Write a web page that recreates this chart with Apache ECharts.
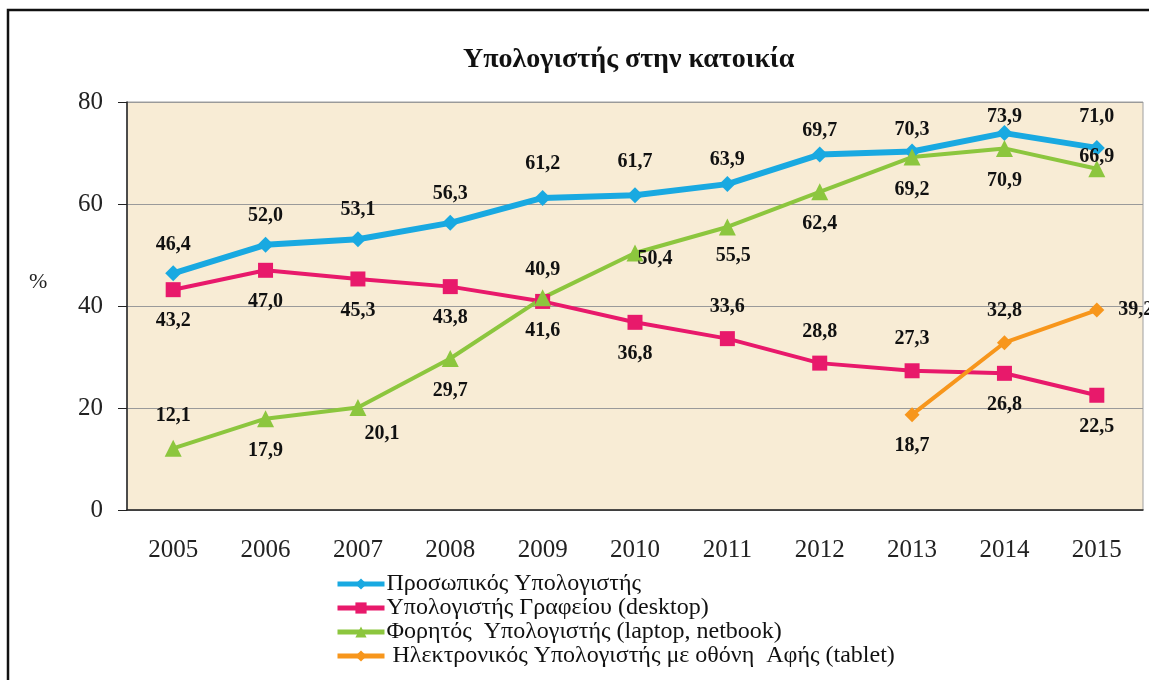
<!DOCTYPE html>
<html>
<head>
<meta charset="utf-8">
<script src="https://cdn.jsdelivr.net/npm/echarts@6/dist/echarts.min.js"></script>
<style>
    html, body { margin: 0; padding: 0; background: #fff; }
    #chart { width: 1149px; height: 680px; }
</style>
</head>
<body>
<div id="chart"></div>
<script>
// 数据
const years = ['2005', '2006', '2007', '2008', '2009', '2010', '2011', '2012', '2013', '2014', '2015'];
const personalPC = [46.4, 52.0, 53.1, 56.3, 61.2, 61.7, 63.9, 69.7, 70.3, 73.9, 71.0];
const desktopPC = [43.2, 47.0, 45.3, 43.8, 40.9, 36.8, 33.6, 28.8, 27.3, 26.8, 22.5];
const laptopPC = [12.1, 17.9, 20.1, 29.7, 41.6, 50.4, 55.5, 62.4, 69.2, 70.9, 66.9];
const tabletPC = [null, null, null, null, null, null, null, null, 18.7, 32.8, 39.2];
const seriesNames = [
    'Προσωπικός Υπολογιστής',
    'Υπολογιστής Γραφείου (desktop)',
    'Φορητός  Υπολογιστής (laptop, netbook)',
    ' Ηλεκτρονικός Υπολογιστής με οθόνη  Αφής (tablet)'
];
const yTicks = { min: 0, max: 80, interval: 20 };

// 标签位置（样式）
const personalPos = ['top', 'top', 'top', 'top', 'top', 'top', 'top', 'top', 'top', 'top', 'top'];
const desktopPos = ['bottom', 'bottom', 'bottom', 'bottom', 'top', 'bottom', 'top', 'top', 'top', 'bottom', 'bottom'];
const laptopPos = ['top', 'bottom', 'right', 'bottom', 'bottom', 'right', 'bottom', 'bottom', 'bottom', 'bottom', 'bottom'];
const tabletPos = [null, null, null, null, null, null, null, null, 'bottom', 'top', 'right'];
// 标签偏移（样式）
const personalOff = [[0, 3], [0, 3], [0, 3], [0, 3], [0, -2], [0, -2], [0, 8], [0, 8], [0, 10], [0, 16], [0, 1]];
const laptopOff = [null, null, [-16, 26], null, null, [-20, 6], [6, -4], null, null, null, [0, -44]];

const serif = "'Liberation Serif', 'Times New Roman', serif";

function fmt(p) {
    return p.value == null ? '' : Number(p.value).toFixed(1).replace('.', ',');
}

function withLabels(values, positions, offsets) {
    return values.map(function(v, i) {
        if (v == null) return v;
        const item = { value: v, label: { position: positions[i] } };
        if (offsets && offsets[i]) item.label.offset = offsets[i];
        return item;
    });
}

const chart = echarts.init(document.getElementById('chart'));

const labelStyle = {
    show: true,
    formatter: fmt,
    fontFamily: serif,
    fontWeight: 'bold',
    fontSize: 20,
    color: '#111',
    distance: 14
};

const option = {
    backgroundColor: 'transparent',
    animation: false,
    title: {
        text: 'Υπολογιστής στην κατοικία',
        left: 458,
        top: 41,
        textStyle: { fontFamily: serif, fontWeight: 'bold', fontSize: 28, color: '#111' }
    },
    graphic: [
        {
            type: 'rect',
            z: -10,
            shape: { x: 8, y: 10, width: 1250, height: 800 },
            style: { fill: '#fff', stroke: '#111', lineWidth: 2.5 }
        },
        {
            type: 'text',
            left: 29,
            top: 271,
            style: { text: '%', fontFamily: serif, fontSize: 22, fill: '#222' }
        }
    ],
    legend: {
        orient: 'vertical',
        left: 335,
        top: 572,
        padding: 0,
        itemWidth: 47,
        itemHeight: 14,
        itemGap: 0,
        lineStyle: { width: 5 },
        textStyle: { fontFamily: serif, fontSize: 24, lineHeight: 24, color: '#111', padding: [0, 0, 0, -3] },
        data: seriesNames
    },
    grid: {
        left: 127,
        right: 6,
        top: 102,
        bottom: 170,
        show: true,
        backgroundColor: '#f8ecd5',
        borderColor: '#a0a0a0',
        borderWidth: 1
    },
    xAxis: {
        type: 'category',
        data: years,
        boundaryGap: true,
        axisLine: { lineStyle: { color: '#222', width: 1.5 } },
        axisTick: { show: false },
        axisLabel: { fontFamily: serif, fontSize: 25, color: '#222', margin: 28 }
    },
    yAxis: {
        type: 'value',
        min: yTicks.min,
        max: yTicks.max,
        interval: yTicks.interval,
        axisLine: { show: true, lineStyle: { color: '#222', width: 1.5 } },
        axisTick: { show: true, length: 9, lineStyle: { color: '#222' } },
        axisLabel: { fontFamily: serif, fontSize: 25, color: '#222', margin: 24 },
        splitLine: { lineStyle: { color: '#9a9a9a', width: 1 } }
    },
    series: [
        {
            name: seriesNames[0],
            type: 'line',
            data: withLabels(personalPC, personalPos, personalOff),
            symbol: 'diamond',
            symbolSize: 16,
            lineStyle: { color: '#19a9e1', width: 6 },
            itemStyle: { color: '#19a9e1' },
            label: labelStyle
        },
        {
            name: seriesNames[1],
            type: 'line',
            data: withLabels(desktopPC, desktopPos),
            symbol: 'rect',
            symbolSize: 15,
            lineStyle: { color: '#e8196b', width: 4 },
            itemStyle: { color: '#e8196b' },
            label: labelStyle
        },
        {
            name: seriesNames[2],
            type: 'line',
            data: withLabels(laptopPC, laptopPos, laptopOff),
            symbol: 'triangle',
            symbolSize: 17,
            lineStyle: { color: '#8cc63e', width: 4 },
            itemStyle: { color: '#8cc63e' },
            label: labelStyle
        },
        {
            name: seriesNames[3],
            type: 'line',
            data: withLabels(tabletPC, tabletPos),
            symbol: 'diamond',
            symbolSize: 15,
            lineStyle: { color: '#f7961c', width: 4 },
            itemStyle: { color: '#f7961c' },
            label: labelStyle
        }
    ]
};

chart.setOption(option);
</script>
</body>
</html>
